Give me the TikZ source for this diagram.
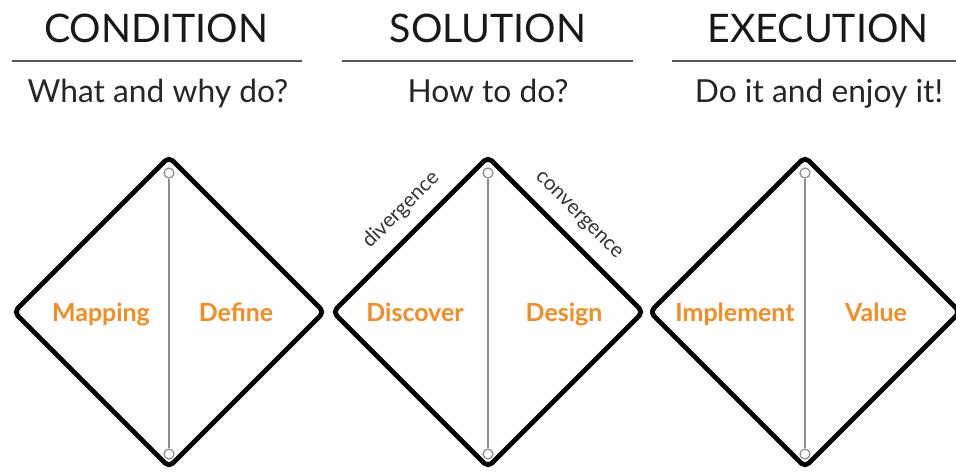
\documentclass[tikz,border=0pt]{standalone}
\usepackage{fontspec}
\setmainfont{Lato}
\definecolor{orangelab}{HTML}{F68B1F}
\definecolor{rulegray}{HTML}{555555}
\definecolor{axisgray}{HTML}{8C8C8C}
\begin{document}
\begin{tikzpicture}[x=0.75pt,y=-0.75pt,
  dia/.style={line width=3.6pt, rounded corners=4pt, line join=round},
  head/.style={anchor=base, font=\fontsize{29.5}{34}\selectfont, text=black!90, inner sep=0pt},
  sub/.style={anchor=base, font=\fontsize{23.8}{28}\selectfont, text=black!85, inner sep=0pt},
  hrule/.style={line width=1.8pt, rulegray},
  lab/.style={anchor=base, font=\bfseries\fontsize{18.7}{22}\selectfont, text=orangelab, inner sep=0pt},
  dot/.style={circle, draw=axisgray, fill=white, line width=0.9pt, minimum size=7.5pt, inner sep=0pt},
  axis/.style={axisgray, line width=1.1pt},
  small/.style={font=\fontsize{15.5}{18}\selectfont, text=black!80, inner sep=0pt}]
\useasboundingbox (0,0) rectangle (956,472);

% headers
\node[head] (h1) at (156,42) {CONDITION};
\node[head] (h2) at (488,42) {SOLUTION};
\node[head] (h3) at (818,42) {EXECUTION};
\coordinate (r1a) at (12,61); \coordinate (r1b) at (302,61);
\coordinate (r2a) at (342,61); \coordinate (r2b) at (633,61);
\coordinate (r3a) at (672,61); \coordinate (r3b) at (958,61);
\draw[hrule] (r1a) -- (r1b);
\draw[hrule] (r2a) -- (r2b);
\draw[hrule] (r3a) -- (r3b);
\node[sub] (s1) at (158,102) {What and why do?};
\node[sub] (s2) at (488,102) {How to do?};
\node[sub] (s3) at (819,102) {Do it and enjoy it!};

% diamonds
\foreach \n/\cx in {1/169,2/488,3/805}{
  \coordinate (c\n) at (\cx,312);
  \draw[dia] (\cx,157) -- (\cx+155,312) -- (\cx,467) -- (\cx-155,312) -- cycle;
  \node[dot] (t\n) at (\cx,173) {};
  \node[dot] (b\n) at (\cx,454) {};
  \draw[axis] (t\n) -- (b\n);
}

% labels
\node[lab] (l1) at (101,321) {Mapping};
\node[lab] (l2) at (236,321) {Define};
\node[lab] (l3) at (415,321) {Discover};
\node[lab] (l4) at (564,321) {Design};
\node[lab] (l5) at (735,321) {Implement};
\node[lab] (l6) at (876,321) {Value};

\node[small, rotate=45] (dv) at (401,210) {divergence};
\node[small, rotate=-45] (cv) at (578,216) {convergence};
\end{tikzpicture}
\end{document}
